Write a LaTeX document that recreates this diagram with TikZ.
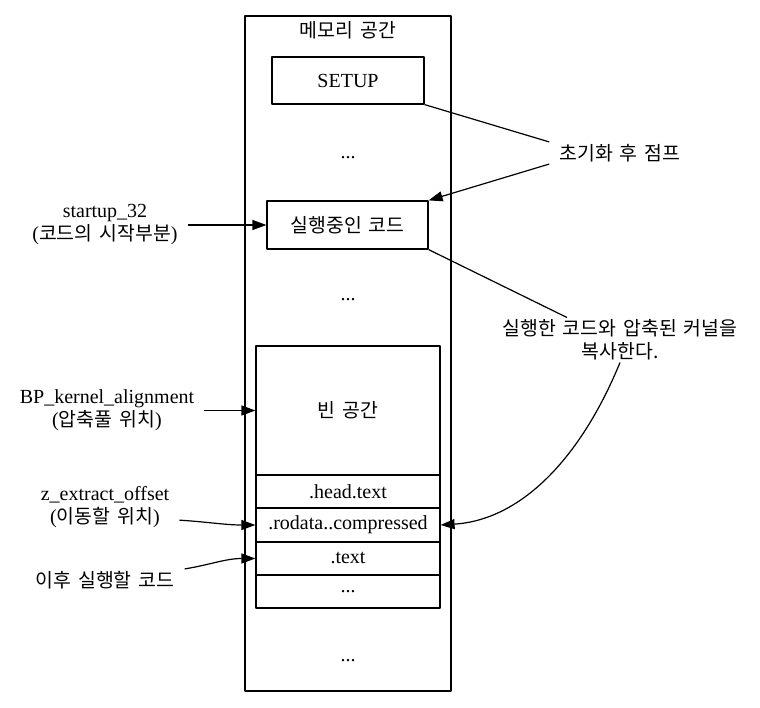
\documentclass[tikz,border=0pt]{standalone}
\usepackage{fontspec}
\setmainfont{Liberation Serif}
\newfontfamily\krfont[Scale=0.97,WordSpace=1.6]{Noto Sans CJK KR}
\newcommand\kr[1]{{\krfont #1}}
\usetikzlibrary{arrows.meta}
\tikzset{
  every picture/.style={line join=round},
  box/.style={draw, line width=1.2pt, inner sep=0pt},
  seg/.style={box, minimum width=184pt},
  lbl/.style={align=center, inner xsep=10pt, inner ysep=2pt},
  link/.style={line width=1.2pt},
  tip/.style={-{Triangle[length=14pt,width=10pt]}},
}
\begin{document}
\begin{tikzpicture}[x=1pt,y=-1pt,font=\fontsize{20}{23}\selectfont]
\useasboundingbox (0,0) rectangle (760,708);
% memory column
\node[box,minimum width=206pt,minimum height=675pt] (mem) at (348,353.5){};
\node (title) at (348,30){\kr{메모리 공간}};
\node[box,minimum width=152pt,minimum height=47pt] (setup) at (348,80.5){SETUP};
\node (dots1) at (348,158){...};
\node[box,minimum width=161pt,minimum height=48pt] (run) at (347.5,225){\kr{실행중인 코드}};
\node (dots2) at (348,300){...};
% decompression area
\node[seg,minimum height=129pt] (free) at (348,410.5){\kr{빈 공간}};
\node[seg,minimum height=33pt] (head) at (348,491.5){.head.text};
\node[seg,minimum height=34pt] (rodata) at (348,525){.rodata..compressed};
\node[seg,minimum height=33pt] (text) at (348,558.5){.text};
\node[seg,minimum height=33pt] (rest) at (348,591.5){...};
\node (dots3) at (348,661){...};
% left labels
\node[lbl] (start) at (105,225){startup\_32\\(\kr{코드의 시작부분})};
\node[lbl] (bp) at (107,410.5){BP\_kernel\_alignment\\(\kr{압축풀 위치})};
\node[lbl] (zoff) at (105,507){z\_extract\_offset\\(\kr{이동할 위치})};
\node[lbl] (later) at (105,580){\kr{이후 실행할 코드}};
% right labels
\node[lbl] (jump) at (620,153){\kr{초기화 후 점프}};
\node[lbl] (copy) at (620,340){\kr{실행한 코드와 압축된 커널을}\\\kr{복사한다.}};
% connectors
\draw[link,tip] (start.east) -- (run.west);
\draw[link,tip] (bp.east) -- (free.west);
\draw[link,tip] (zoff.-10) .. controls +(30,2) and +(-30,0) .. (rodata.west);
\draw[link,tip] (later.north east) .. controls +(25,-4) and +(-30,0) .. (text.west);
\draw[link] (setup.south east) -- (jump.north west);
\draw[link,tip] (jump.south west) -- (run.north east);
\draw[link] (run.south east) -- (copy.157);
\draw[link,tip] (copy.south) .. controls (580,460) and (520,520) .. (rodata.east);
\end{tikzpicture}
\end{document}
